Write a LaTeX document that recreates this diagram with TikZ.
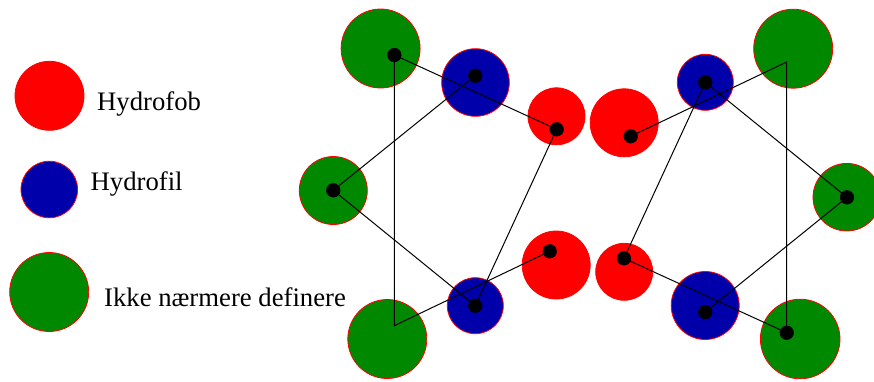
\documentclass[tikz,border=0pt]{standalone}
\usepackage{fontspec}
\setmainfont{Liberation Serif}
\definecolor{phob}{RGB}{255,0,0}
\definecolor{phil}{RGB}{0,0,170}
\definecolor{undef}{RGB}{0,137,0}
\begin{document}
\begin{tikzpicture}[x=1pt,y=-1pt,
  ball/.style={circle,inner sep=0pt,draw=red,line width=0.8pt},
  hfob/.style={ball,fill=phob},
  hfil/.style={ball,fill=phil},
  undef/.style={ball,fill=undef},
  head/.style={circle,inner sep=0pt,minimum size=14pt,fill=black},
  bond/.style={black,line width=1pt},
  legendtext/.style={anchor=base west,inner sep=0pt,font=\rmfamily\fontsize{26.7}{32}\selectfont}]
\useasboundingbox (0,0) rectangle (874,381);

% legend
\node[hfob,minimum size=69pt] (lgfob) at (49.5,95.8) {};
\node[hfil,minimum size=56.6pt] (lgfil) at (49.3,189.5) {};
\node[undef,minimum size=79pt] (lgund) at (49.2,292) {};
\node[legendtext] (tfob) at (97,110.7) {Hydrofob};
\node[legendtext] (tfil) at (90.5,190) {Hydrofil};
\node[legendtext] (tund) at (104,306.7) {Ikke nærmere definere};

% left molecule: spheres
\node[undef,minimum size=79pt] (gTL) at (380.6,48.5) {};
\node[hfil,minimum size=67.6pt] (bTL) at (475.5,82.5) {};
\node[hfob,minimum size=57pt] (rTL) at (556.5,116.3) {};
\node[undef,minimum size=68pt] (gL) at (333.3,190.5) {};
\node[undef,minimum size=79pt] (gBL) at (387.3,339) {};
\node[hfil,minimum size=56pt] (bBL) at (475.3,305.7) {};
\node[hfob,minimum size=68pt] (rBL) at (556.2,265) {};

% right molecule: spheres
\node[hfob,minimum size=68pt] (rTR) at (624.2,122.8) {};
\node[hfil,minimum size=56pt] (bTR) at (705.3,82.3) {};
\node[undef,minimum size=79pt] (gTR) at (793.2,48.7) {};
\node[undef,minimum size=67.6pt] (gR) at (846.8,197.2) {};
\node[hfob,minimum size=57pt] (rBR) at (624.2,271.8) {};
\node[hfil,minimum size=68pt] (bBR) at (705.2,305.5) {};
\node[undef,minimum size=79.6pt] (gBR) at (800.2,339) {};

% bond corners without a head
\coordinate (kBL) at (394.3,325.7);
\coordinate (kTR) at (786.7,62);

% heads
\node[head] (hTL) at (394.3,55) {};
\node[head] (hbTL) at (475.3,75.7) {};
\node[head] (hrTL) at (556.7,129.3) {};
\node[head] (hL) at (333.3,190.3) {};
\node[head] (hbBL) at (475.3,305.7) {};
\node[head] (hrBL) at (549.7,251.3) {};
\node[head] (hrTR) at (630.7,136.3) {};
\node[head] (hbTR) at (705.3,82.3) {};
\node[head] (hR) at (847,197.3) {};
\node[head] (hrBR) at (624,258.3) {};
\node[head] (hbBR) at (705.3,312) {};
\node[head] (hBR) at (786.7,332.7) {};

% bonds, left
\draw[bond] (hTL.center) -- (hrTL.center);
\draw[bond] (hTL.center) -- (kBL) -- (hrBL.center);
\draw[bond] (hbTL.center) -- (hL.center) -- (hbBL.center) -- (hrTL.center);
% bonds, right
\draw[bond] (hrTR.center) -- (kTR) -- (hBR.center) -- (hrBR.center) -- (hbTR.center) -- (hR.center) -- (hbBR.center);

% heads over the bonds
\foreach \h in {hTL,hbTL,hrTL,hL,hbBL,hrBL,hrTR,hbTR,hR,hrBR,hbBR,hBR}
  \fill (\h) circle (7pt);
\end{tikzpicture}
\end{document}
